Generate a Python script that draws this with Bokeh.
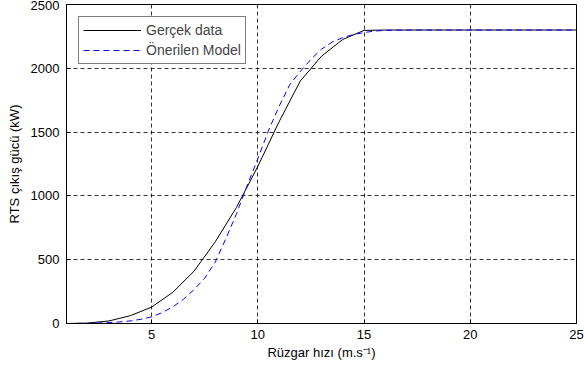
from bokeh.plotting import figure
from bokeh.models import FixedTicker, Range1d
from bokeh.embed import file_html
from bokeh.resources import INLINE

# Measured data (Gerçek data), wind speed in m/s vs power kW
wind_actual = [1, 2, 3, 4, 5, 6, 7, 8, 9, 10, 11, 12, 13, 14, 15, 16, 17, 18, 19, 20, 21, 22, 23, 24, 25]
power_actual = [0, 3, 20, 61, 128, 244, 410, 640, 910, 1230, 1580, 1900, 2095, 2226, 2297,
                2300, 2300, 2300, 2300, 2300, 2300, 2300, 2300, 2300, 2300]

# Proposed model (Önerilen Model)
wind_model = [1, 1.5, 2, 2.5, 3, 3.5, 4, 4.5, 5, 5.5, 6, 6.5, 7, 7.5, 8, 8.5, 9, 9.5, 10, 10.5,
              11, 11.5, 12, 12.5, 13, 13.5, 14, 14.5, 15, 15.5, 16, 16.5, 17, 18, 19, 20, 21, 22, 23, 24, 25]
power_model = [0, 1, 2, 4, 7, 12, 20, 33, 52, 85, 130, 190, 265, 355, 480, 665, 860, 1080, 1290, 1510,
               1700, 1870, 1975, 2070, 2150, 2205, 2240, 2265, 2280, 2292, 2297, 2299, 2300, 2300,
               2300, 2300, 2300, 2300, 2300, 2300, 2300]

x_ticks = [5, 10, 15, 20, 25]
y_ticks = [0, 500, 1000, 1500, 2000, 2500]

FONT = "Liberation Sans"

p = figure(width=584, height=369, output_backend="svg", toolbar_location=None,
           x_range=Range1d(1, 25), y_range=Range1d(0, 2500),
           min_border_left=66, min_border_right=8, min_border_top=4, min_border_bottom=46)

p.line(wind_actual, power_actual, line_color="black", line_width=1, legend_label="Gerçek data")
p.line(wind_model, power_model, line_color="#0000ff", line_width=1, line_dash="6 4",
       legend_label="Önerilen Model")

p.outline_line_color = "black"
p.outline_line_width = 1

for ax in (p.xaxis[0], p.yaxis[0]):
    ax.axis_line_color = "black"
    ax.major_tick_in = 4
    ax.major_tick_out = 0
    ax.minor_tick_line_color = None
    ax.major_tick_line_color = "black"
    ax.major_label_text_font = FONT
    ax.major_label_text_font_size = "13px"
    ax.major_label_text_color = "black"
    ax.axis_label_text_font = FONT
    ax.axis_label_text_font_size = "13px"
    ax.axis_label_text_font_style = "normal"
    ax.axis_label_text_color = "black"

p.xaxis.ticker = FixedTicker(ticks=x_ticks)
p.yaxis.ticker = FixedTicker(ticks=y_ticks)
p.xaxis.axis_label = "Rüzgar hızı (m.s⁻¹)"
p.yaxis.axis_label = "RTS çıkış gücü (kW)"
p.xaxis.major_label_standoff = 6
p.yaxis.major_label_standoff = 7
p.xaxis.axis_label_standoff = 3
p.yaxis.axis_label_standoff = 6

for g in (p.xgrid[0], p.ygrid[0]):
    g.grid_line_color = "black"
    g.grid_line_alpha = 0.8
    g.grid_line_dash = "4 3"
    g.grid_line_width = 1
    g.ticker = FixedTicker(ticks=x_ticks if g is p.xgrid[0] else y_ticks)

leg = p.legend[0]
leg.location = "top_left"
leg.margin = 12
leg.padding = 4
leg.spacing = 2
leg.label_height = 18
leg.glyph_height = 18
leg.glyph_width = 58
leg.label_standoff = 5
leg.label_text_font = FONT
leg.label_text_font_size = "14px"
leg.border_line_color = "black"
leg.border_line_width = 1
leg.background_fill_color = "white"
leg.background_fill_alpha = 1

open("out.html", "w").write(file_html(p, INLINE))
